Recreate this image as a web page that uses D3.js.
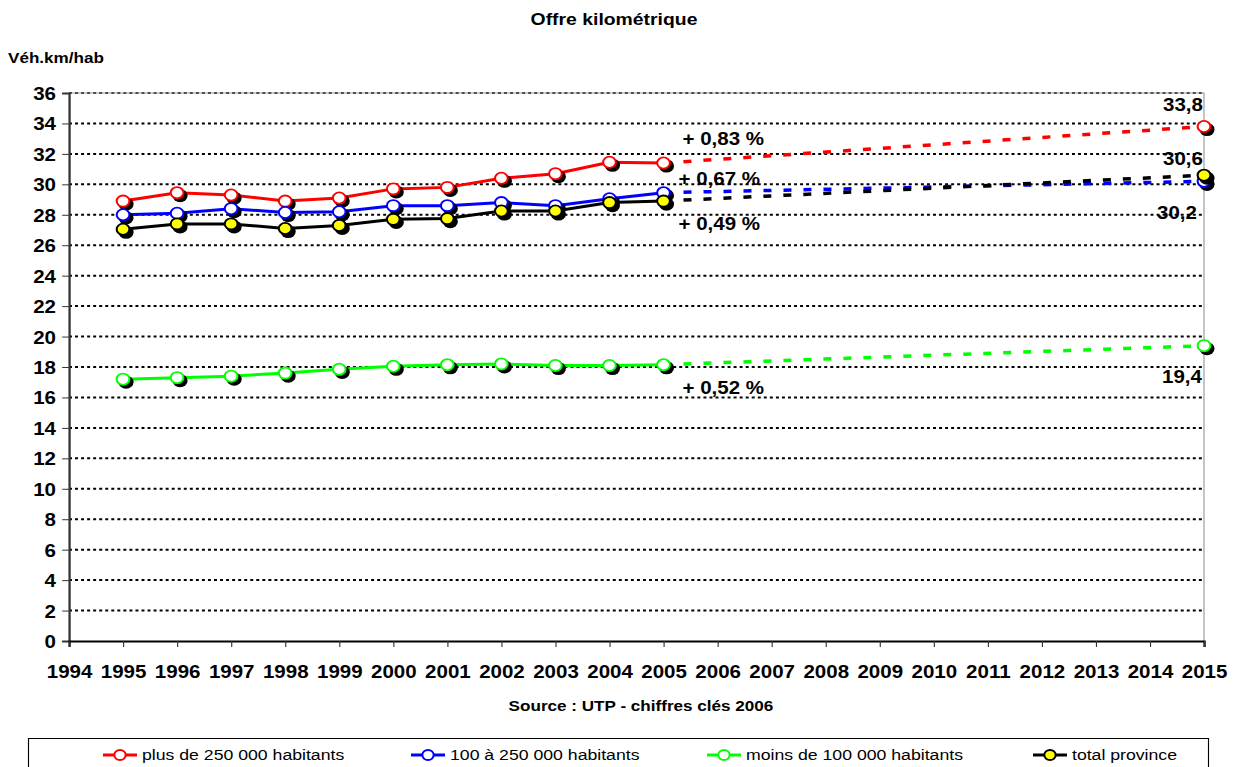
<!DOCTYPE html>
<html>
<head>
<meta charset="utf-8">
<script src="https://cdn.jsdelivr.net/npm/d3@7"></script>
<style>
  body { margin: 0; background: #fff; }
  svg { display: block; font-family: "Liberation Sans", Arial, sans-serif; }
</style>
</head>
<body>
<div id="chart"></div>
<script>
// data
const years = [1995, 1996, 1997, 1998, 1999, 2000, 2001, 2002, 2003, 2004, 2005];
const plus250 = [28.9, 29.45, 29.3, 28.9, 29.1, 29.7, 29.8, 30.4, 30.7, 31.45, 31.4];
const de100a250 = [28.0, 28.1, 28.4, 28.15, 28.2, 28.6, 28.6, 28.8, 28.6, 29.05, 29.45];
const moins100 = [17.2, 17.3, 17.4, 17.6, 17.85, 18.05, 18.15, 18.2, 18.1, 18.1, 18.15];
const totalProvince = [27.05, 27.4, 27.4, 27.1, 27.3, 27.7, 27.75, 28.25, 28.25, 28.8, 28.9];
const projYear = 2015;
const proj2015 = [33.8, 30.2, 19.4, 30.6];
const projLabels = ['33,8', '30,2', '19,4', '30,6'];
const rateLabels = ['+ 0,83 %', '+ 0,67 %', '+ 0,52 %', '+ 0,49 %'];
const seriesNames = ['plus de 250 000 habitants', '100 à 250 000 habitants', 'moins de 100 000 habitants', 'total province'];
const xTicks = d3.range(1994, 2016);
const yTicks = d3.range(0, 37, 2);

const colors = ['#ff0000', '#0000ff', '#00ff00', '#000000'];
const fills = ['#ffffff', '#ffffff', '#ffffff', '#ffff00'];
const seriesValues = [plus250, de100a250, moins100, totalProvince];

// text in the original is stretched horizontally, so draw in a scaled group
const W = 1237, H = 767;
const sx = 1.14;
const X = v => v / sx;   // screen px -> group units

const svg = d3.select('#chart').append('svg')
  .attr('width', W).attr('height', H);
const g = svg.append('g').attr('transform', `scale(${sx},1)`);

const xScale = d3.scaleLinear().domain([1994, 2015]).range([X(69), X(1204)]);
const yScale = d3.scaleLinear().domain([0, 36]).range([641, 93]);

// title & labels
g.append('text').attr('x', X(614)).attr('y', 25).attr('text-anchor', 'middle')
  .attr('font-size', 17).attr('font-weight', 'bold').text('Offre kilométrique');
g.append('text').attr('x', X(8)).attr('y', 63)
  .attr('font-size', 15).attr('font-weight', 'bold').text('Véh.km/hab');
g.append('text').attr('x', X(641)).attr('y', 711).attr('text-anchor', 'middle')
  .attr('font-size', 15).attr('font-weight', 'bold').text('Source : UTP - chiffres clés 2006');

// grid
g.append('g').selectAll('line')
  .data(yTicks.filter(d => d > 0))
  .enter().append('line')
  .attr('x1', xScale(1994)).attr('x2', xScale(2015))
  .attr('y1', d => yScale(d)).attr('y2', d => yScale(d))
  .attr('stroke', '#000').attr('stroke-width', 2)
  .attr('stroke-dasharray', '2.6,2.7');

// plot border top/right
g.append('path')
  .attr('d', `M${xScale(1994)},${yScale(36)}H${xScale(2015)}V${yScale(0)}`)
  .attr('fill', 'none').attr('stroke', '#999').attr('stroke-width', 1);

// axes
const yAxis = d3.axisLeft(yScale).tickValues(yTicks).tickSize(6).tickFormat(d => d);
const yG = g.append('g').attr('transform', `translate(${xScale(1994)},0)`).call(yAxis);
yG.select('.domain').attr('stroke', '#333').attr('stroke-width', 2);
yG.selectAll('.tick line').attr('stroke', '#333').attr('stroke-width', 1);
yG.selectAll('.tick text').attr('font-size', 18).attr('font-weight', 'bold')
  .attr('fill', '#000').attr('x', -X(13)).attr('dy', '0.36em')
  .attr('font-family', '"Liberation Sans", Arial, sans-serif');

const xAxis = d3.axisBottom(xScale).tickValues(xTicks).tickSize(6).tickFormat(d => d);
const xG = g.append('g').attr('transform', `translate(0,${yScale(0)})`).call(xAxis);
xG.select('.domain').attr('stroke', '#000').attr('stroke-width', 2);
xG.selectAll('.tick line').attr('stroke', '#333');
xG.selectAll('.tick text').attr('font-size', 18).attr('font-weight', 'bold')
  .attr('fill', '#000').attr('y', 31).attr('dy', '0.36em')
  .attr('font-family', '"Liberation Sans", Arial, sans-serif');

const line = d3.line().x(d => xScale(d[0])).y(d => yScale(d[1]));

// projections 2005 -> 2015
seriesValues.forEach((vals, i) => {
  g.append('path')
    .datum([[years[years.length - 1], vals[vals.length - 1]], [projYear, proj2015[i]]])
    .attr('d', line)
    .attr('fill', 'none').attr('stroke', colors[i]).attr('stroke-width', 3.5)
    .attr('stroke-dasharray', `${X(8)},${X(12)}`);
});

// series lines
seriesValues.forEach((vals, i) => {
  g.append('path')
    .datum(years.map((y, k) => [y, vals[k]]))
    .attr('d', line)
    .attr('fill', 'none').attr('stroke', colors[i]).attr('stroke-width', 3);
});

// markers
const R = 5.6;
seriesValues.forEach((vals, i) => {
  const pts = years.map((y, k) => [y, vals[k]]).concat([[projYear, proj2015[i]]]);
  const mg = g.append('g');
  mg.selectAll('.shadow').data(pts).enter().append('circle')
    .attr('class', 'shadow')
    .attr('cx', d => xScale(d[0]) + X(3)).attr('cy', d => yScale(d[1]) + 3)
    .attr('r', R + 1).attr('fill', '#000');
  mg.selectAll('.dot').data(pts).enter().append('circle')
    .attr('class', 'dot')
    .attr('cx', d => xScale(d[0])).attr('cy', d => yScale(d[1]))
    .attr('r', R).attr('fill', fills[i])
    .attr('stroke', colors[i]).attr('stroke-width', 1.8);
});

// growth rate labels near 2005 and values at 2015
const rateOffset = [[19, -18], [15, -8], [19, 29], [15, 29]];
const valOffset = [[-1, -15], [-7, 38], [-2, 37], [-1, -10]];
seriesValues.forEach((vals, i) => {
  g.append('text')
    .attr('x', xScale(2005) + X(rateOffset[i][0]))
    .attr('y', yScale(vals[vals.length - 1]) + rateOffset[i][1])
    .attr('font-size', 18).attr('font-weight', 'bold').text(rateLabels[i]);
  g.append('text')
    .attr('x', xScale(projYear) + X(valOffset[i][0]))
    .attr('y', yScale(proj2015[i]) + valOffset[i][1])
    .attr('text-anchor', 'end')
    .attr('font-size', 18).attr('font-weight', 'bold').text(projLabels[i]);
});

// legend
g.append('rect').attr('x', X(28.5)).attr('y', 738.5)
  .attr('width', X(1180)).attr('height', 40)
  .attr('fill', 'none').attr('stroke', '#000').attr('stroke-width', 1);
const legendX = [103, 411, 707, 1033];
seriesNames.forEach((name, i) => {
  const lg = g.append('g');
  lg.append('line').attr('x1', X(legendX[i])).attr('x2', X(legendX[i] + 34))
    .attr('y1', 755).attr('y2', 755)
    .attr('stroke', colors[i]).attr('stroke-width', 3);
  lg.append('circle').attr('cx', X(legendX[i] + 17)).attr('cy', 755).attr('r', 5)
    .attr('fill', fills[i]).attr('stroke', colors[i]).attr('stroke-width', 1.8);
  lg.append('text').attr('x', X(legendX[i] + 39)).attr('y', 760.5)
    .attr('font-size', 15.5).text(name);
});
</script>
</body>
</html>
